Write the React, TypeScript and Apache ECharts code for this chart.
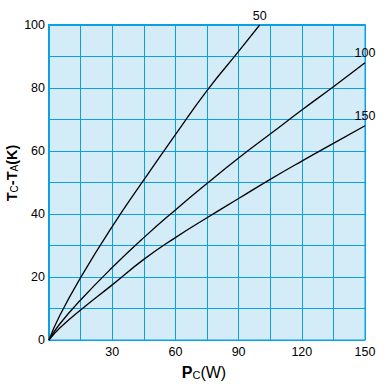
import React, { useEffect, useRef } from "react";
import * as echarts from "echarts";

const curve50X = [0, 5, 15, 30, 45, 60, 75, 90, 100];
const curve50Y = [0, 7.6, 19.8, 36, 50.8, 65.2, 79.2, 91.6, 100];
const curve100X = [0, 5, 15, 30, 45, 60, 75, 90, 105, 120, 135, 150];
const curve100Y = [0, 5, 12.7, 23, 32.5, 41.3, 49.7, 57.8, 65.4, 73, 80.4, 88];
const curve150X = [0, 5, 15, 30, 45, 60, 75, 90, 105, 120, 135, 150];
const curve150Y = [0, 3.7, 9.5, 17.5, 25.6, 32.5, 38.8, 44.9, 51, 56.8, 62.4, 68];
const curveNames = ["50", "100", "150"];

const BLUE = "#0aa0e4";
const BG = "#d4ebf8";
const FONT = "'Liberation Sans', Arial, sans-serif";

export default function App() {
  const ref = useRef<HTMLDivElement>(null);
  useEffect(() => {
    if (!ref.current) return;
    const chart = echarts.init(ref.current, null, { renderer: "svg" });
    const sets = [
      [curve50X, curve50Y],
      [curve100X, curve100Y],
      [curve150X, curve150Y],
    ];
    const option: any = {
      animation: false,
      grid: {
        left: 49,
        top: 25,
        right: 23,
        bottom: 44,
        show: true,
        backgroundColor: BG,
        borderColor: BLUE,
        borderWidth: 1,
      },
      xAxis: [
        {
          type: "value",
          min: 0,
          max: 150,
          interval: 15,
          axisLine: { show: true, lineStyle: { color: BLUE, width: 1 } },
          axisTick: { show: false },
          splitLine: { show: true, lineStyle: { color: BLUE, width: 1 } },
          axisLabel: {
            margin: 5,
            color: "#000",
            fontSize: 12.5,
            fontFamily: FONT,
            formatter: (v: number) => (v !== 0 && v % 30 === 0 ? String(v) : ""),
          },
        },
        {
          type: "value",
          position: "top",
          min: 0,
          max: 150,
          axisLine: { show: true, lineStyle: { color: BLUE, width: 2 } },
          axisTick: { show: false },
          axisLabel: { show: false },
          splitLine: { show: false },
        },
      ],
      yAxis: {
        type: "value",
        min: 0,
        max: 100,
        interval: 10,
        axisLine: { show: true, lineStyle: { color: BLUE, width: 2 } },
        axisTick: { show: false },
        splitLine: { show: true, lineStyle: { color: BLUE, width: 1 } },
        axisLabel: {
          margin: 4,
          color: "#000",
          fontSize: 12.5,
          fontFamily: FONT,
          formatter: (v: number) => (v % 20 === 0 ? String(v) : ""),
        },
      },
      series: sets.map((s, i) => ({
        type: "line",
        name: curveNames[i],
        data: s[0].map((x, j) => [x, s[1][j]]),
        smooth: 0.5,
        symbol: "none",
        lineStyle: { color: "#000", width: 1.3 },
        clip: false,
        endLabel: {
          show: true,
          formatter: curveNames[i],
          align: "center",
          verticalAlign: "bottom",
          distance: 0,
          offset: [0, -3],
          color: "#000",
          fontSize: 12.5,
          fontFamily: FONT,
        },
      })),
      graphic: [
        {
          type: "text",
          x: 204,
          y: 372,
          style: {
            text: "{b|P}{s|C}{n|(W)}",
            align: "center",
            verticalAlign: "middle",
            rich: {
              b: { fontSize: 16, fontWeight: "bold", fontFamily: FONT, fill: "#000" },
              s: { fontSize: 11, fontFamily: FONT, fill: "#000", verticalAlign: "bottom" },
              n: { fontSize: 16, fontFamily: FONT, fill: "#000" },
            },
          },
        },
        {
          type: "text",
          x: 12,
          y: 173,
          rotation: Math.PI / 2,
          style: {
            text: "{b|T}{s|C}{b|-T}{s|A}{b|(K)}",
            align: "center",
            verticalAlign: "middle",
            rich: {
              b: { fontSize: 14.5, fontWeight: "bold", fontFamily: FONT, fill: "#000" },
              s: { fontSize: 10, fontFamily: FONT, fill: "#000", verticalAlign: "bottom" },
            },
          },
        },
      ],
    };
    chart.setOption(option);
    return () => chart.dispose();
  }, []);
  return <div ref={ref} style={{ width: 388, height: 384, position: "absolute", left: 0, top: 0 }} />;
}
